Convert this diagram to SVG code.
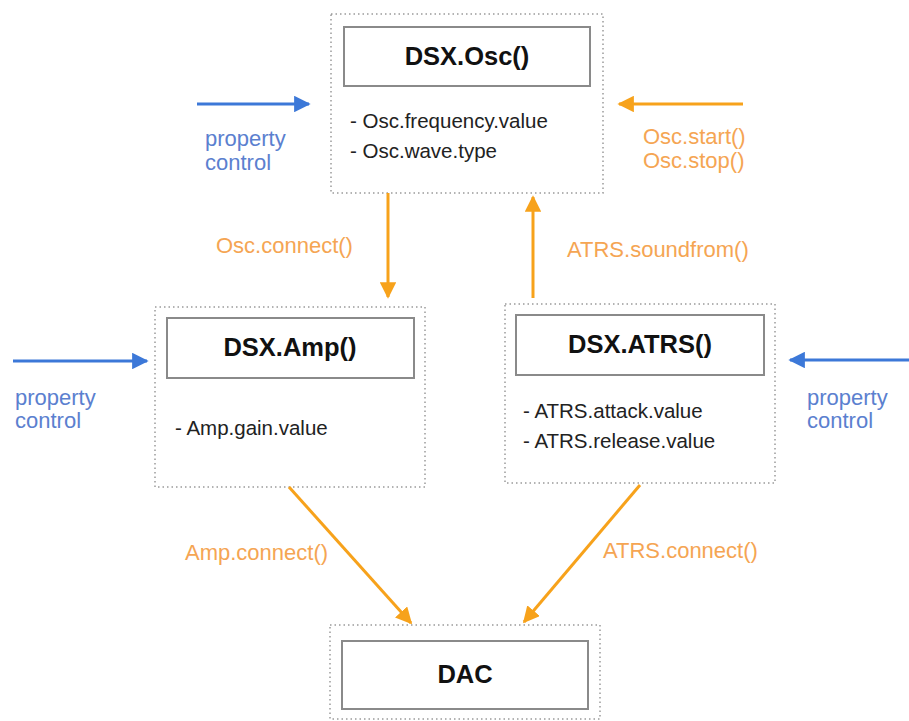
<svg xmlns="http://www.w3.org/2000/svg" width="909" height="721" viewBox="0 0 909 721">
<defs>
<style>
.outer{fill:none;stroke:#9a9a9a;stroke-width:1.5;stroke-dasharray:1.5 3}
.inner{fill:#fff;stroke:#8a8a8a;stroke-width:2}
.title{font-family:"Liberation Sans",Arial,sans-serif;font-weight:bold;font-size:25.5px;fill:#111;text-anchor:middle}
.body{font-family:"Liberation Sans",Arial,sans-serif;font-size:20.5px;fill:#222}
.lblO{font-family:"Liberation Sans",Arial,sans-serif;font-size:22px;fill:#f5a553}
.lblB{font-family:"Liberation Sans",Arial,sans-serif;font-size:22px;fill:#5b80cf}
.ao{stroke:#f7a21b;stroke-width:3;fill:none}
.ab{stroke:#3c78d8;stroke-width:3;fill:none}
</style>
<marker id="mo" viewBox="0 0 10 10" refX="9" refY="5" markerWidth="5.5" markerHeight="5.5" markerUnits="strokeWidth" orient="auto">
<path d="M0,0 L10,5 L0,10 z" fill="#f7a21b"/>
</marker>
<marker id="mb" viewBox="0 0 10 10" refX="9" refY="5" markerWidth="5.5" markerHeight="5.5" markerUnits="strokeWidth" orient="auto">
<path d="M0,0 L10,5 L0,10 z" fill="#3c78d8"/>
</marker>
</defs>
<rect width="909" height="721" fill="#fff"/>

<g id="osc">
<rect class="outer" x="331" y="14" width="272" height="179"/>
<rect class="inner" x="344" y="27" width="246" height="59"/>
<text class="title" x="467" y="65">DSX.Osc()</text>
<text class="body" x="350" y="128">- Osc.frequency.value</text>
<text class="body" x="350" y="158">- Osc.wave.type</text>
</g>

<g id="amp">
<rect class="outer" x="155" y="307" width="270" height="180"/>
<rect class="inner" x="167" y="318" width="247" height="60"/>
<text class="title" x="290" y="356">DSX.Amp()</text>
<text class="body" x="175" y="435">- Amp.gain.value</text>
</g>

<g id="atrs">
<rect class="outer" x="505" y="304" width="270" height="179"/>
<rect class="inner" x="516" y="315" width="248" height="60"/>
<text class="title" x="640" y="353">DSX.ATRS()</text>
<text class="body" x="523" y="418">- ATRS.attack.value</text>
<text class="body" x="523" y="448">- ATRS.release.value</text>
</g>

<g id="dac">
<rect class="outer" x="330" y="625" width="270" height="94"/>
<rect class="inner" x="342" y="641" width="246" height="68"/>
<text class="title" x="465" y="683">DAC</text>
</g>

<g id="connectors">
<line class="ab" x1="197" y1="104" x2="309" y2="104" marker-end="url(#mb)"/>
<text class="lblB" x="205" y="146">property</text>
<text class="lblB" x="205" y="170">control</text>

<line class="ao" x1="743" y1="104" x2="619" y2="104" marker-end="url(#mo)"/>
<text class="lblO" x="643" y="144">Osc.start()</text>
<text class="lblO" x="643" y="168">Osc.stop()</text>

<line class="ao" x1="388" y1="193" x2="388" y2="297" marker-end="url(#mo)"/>
<text class="lblO" x="216" y="253">Osc.connect()</text>

<line class="ao" x1="533" y1="298" x2="533" y2="197" marker-end="url(#mo)"/>
<text class="lblO" x="567" y="257">ATRS.soundfrom()</text>

<line class="ab" x1="13" y1="361" x2="147" y2="361" marker-end="url(#mb)"/>
<text class="lblB" x="15" y="405">property</text>
<text class="lblB" x="15" y="428">control</text>

<line class="ab" x1="909" y1="360" x2="790" y2="360" marker-end="url(#mb)"/>
<text class="lblB" x="807" y="405">property</text>
<text class="lblB" x="807" y="428">control</text>

<line class="ao" x1="289" y1="487" x2="411" y2="623" marker-end="url(#mo)"/>
<text class="lblO" x="185" y="560">Amp.connect()</text>

<line class="ao" x1="640" y1="485" x2="524" y2="622" marker-end="url(#mo)"/>
<text class="lblO" x="603" y="558">ATRS.connect()</text>
</g>
</svg>
